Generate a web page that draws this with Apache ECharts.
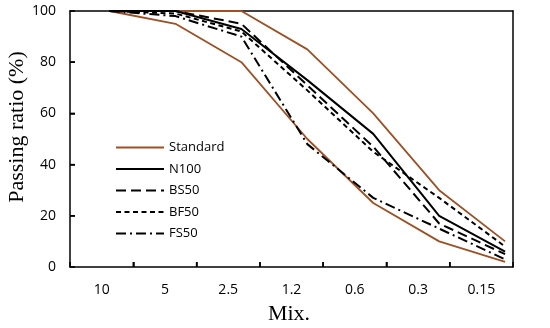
<!DOCTYPE html>
<html>
<head>
<meta charset="utf-8">
<script src="https://cdn.jsdelivr.net/npm/echarts@6/dist/echarts.min.js"></script>
<style>html,body{margin:0;padding:0;background:#fff}#c{width:550px;height:328px}</style>
</head>
<body>
<div id="c"></div>
<script>
const categories = ['10', '5', '2.5', '1.2', '0.6', '0.3', '0.15'];
const yTicks = [0, 20, 40, 60, 80, 100];
const stdUpper = [100, 100, 100, 85, 60, 30, 10];
const stdLower = [100, 95, 80, 50, 25, 10, 2];
const n100 = [100, 100, 93, 73, 52, 20, 6];
const bs50 = [100, 100, 95, 71, 47, 17, 5];
const bf50 = [100, 99, 92, 69, 45, 27, 8];
const fs50 = [100, 98, 90, 48, 27, 15, 3];

const toPts = arr => arr.map((v, i) => [i, v]);
const brown = '#9C5024';
function line(name, data, color, width, type) {
  return {
    name: name, type: 'line', xAxisIndex: 1, yAxisIndex: 0, data: toPts(data),
    symbol: 'none', smooth: false,
    lineStyle: { color: color, width: width, type: type },
    itemStyle: { color: color }
  };
}
const axisLineStyle = { show: true, onZero: false, lineStyle: { color: '#000', width: 1.5 } };
const textGraphics = [
  { type: 'text', x: 17, y: 127, rotation: Math.PI / 2,
    style: { text: 'Passing ratio (%)', font: '22px "Liberation Serif"', fill: '#000', align: 'center', verticalAlign: 'middle' } },
  { type: 'text', x: 289, y: 314,
    style: { text: 'Mix.', font: '22px "Liberation Serif"', fill: '#000', align: 'center', verticalAlign: 'middle' } }
];
const chart = echarts.init(document.getElementById('c'));
chart.setOption({
  animation: false,
  grid: { left: 70, right: 37, top: 11, bottom: 61, show: false },
  legend: {
    data: ['Standard', 'N100', 'BS50', 'BF50', 'FS50'],
    orient: 'vertical', left: 115, top: 141, padding: 0,
    itemWidth: 48, itemHeight: 14, itemGap: 8.5,
    itemStyle: { opacity: 0 },
    textStyle: { fontFamily: 'Open Sans', fontSize: 13, color: '#000' }
  },
  xAxis: [{
    type: 'category', data: categories, boundaryGap: true, position: 'bottom',
    axisLine: axisLineStyle,
    axisTick: { show: true, interval: 0, inside: true, length: 5, lineStyle: { color: '#000', width: 1.5 } },
    axisLabel: { fontFamily: 'Open Sans', fontSize: 14, color: '#000', margin: 16 },
    splitLine: { show: false }
  }, {
    type: 'value', min: -0.6, max: 6.12, show: false, position: 'bottom',
    axisLine: { onZero: false }, splitLine: { show: false }
  }, {
    type: 'category', data: categories, position: 'top',
    axisLine: axisLineStyle, axisTick: { show: false }, axisLabel: { show: false }, splitLine: { show: false }
  }],
  yAxis: [{
    type: 'value', min: yTicks[0], max: yTicks[yTicks.length - 1], interval: 20, position: 'left',
    axisLine: axisLineStyle,
    axisTick: { show: true, inside: true, length: 5, lineStyle: { color: '#000', width: 1.5 } },
    axisLabel: { fontFamily: 'Open Sans', fontSize: 14, color: '#000', margin: 14 },
    splitLine: { show: false }
  }, {
    type: 'value', min: yTicks[0], max: yTicks[yTicks.length - 1], interval: 20, position: 'right',
    axisLine: axisLineStyle, axisTick: { show: false }, axisLabel: { show: false }, splitLine: { show: false }
  }],
  graphic: textGraphics,
  series: [
    line('Standard', stdUpper, brown, 1.8, 'solid'),
    line('Standard', stdLower, brown, 1.8, 'solid'),
    line('N100', n100, '#000', 2, 'solid'),
    line('BS50', bs50, '#000', 2, [10, 5]),
    line('BF50', bf50, '#000', 2, [5, 3.5]),
    line('FS50', fs50, '#000', 2, [10, 4, 2, 4])
  ]
});
// tick marks placed through the library's own axis scales
const c0 = chart.convertToPixel({ xAxisIndex: 0 }, categories[0]);
const c1 = chart.convertToPixel({ xAxisIndex: 0 }, categories[1]);
const step = c1 - c0;
const yBottom = chart.convertToPixel({ yAxisIndex: 0 }, yTicks[0]);
const xLeft = chart.convertToPixel({ xAxisIndex: 1 }, -0.6);
const tickStyle = { stroke: '#000', lineWidth: 1.5 };
const tickGraphics = [];
for (let k = 0; k < categories.length - 1; k++) {
  const bx = c0 + step * (k + 0.5);
  tickGraphics.push({ type: 'line', shape: { x1: bx, y1: yBottom, x2: bx, y2: yBottom - 5 }, style: tickStyle, z: 10 });
}
yTicks.slice(1, -1).forEach(v => {
  const py = chart.convertToPixel({ yAxisIndex: 0 }, v);
  tickGraphics.push({ type: 'line', shape: { x1: xLeft, y1: py, x2: xLeft + 5, y2: py }, style: tickStyle, z: 10 });
});
chart.setOption({ graphic: textGraphics.concat(tickGraphics) });
</script>
</body>
</html>
